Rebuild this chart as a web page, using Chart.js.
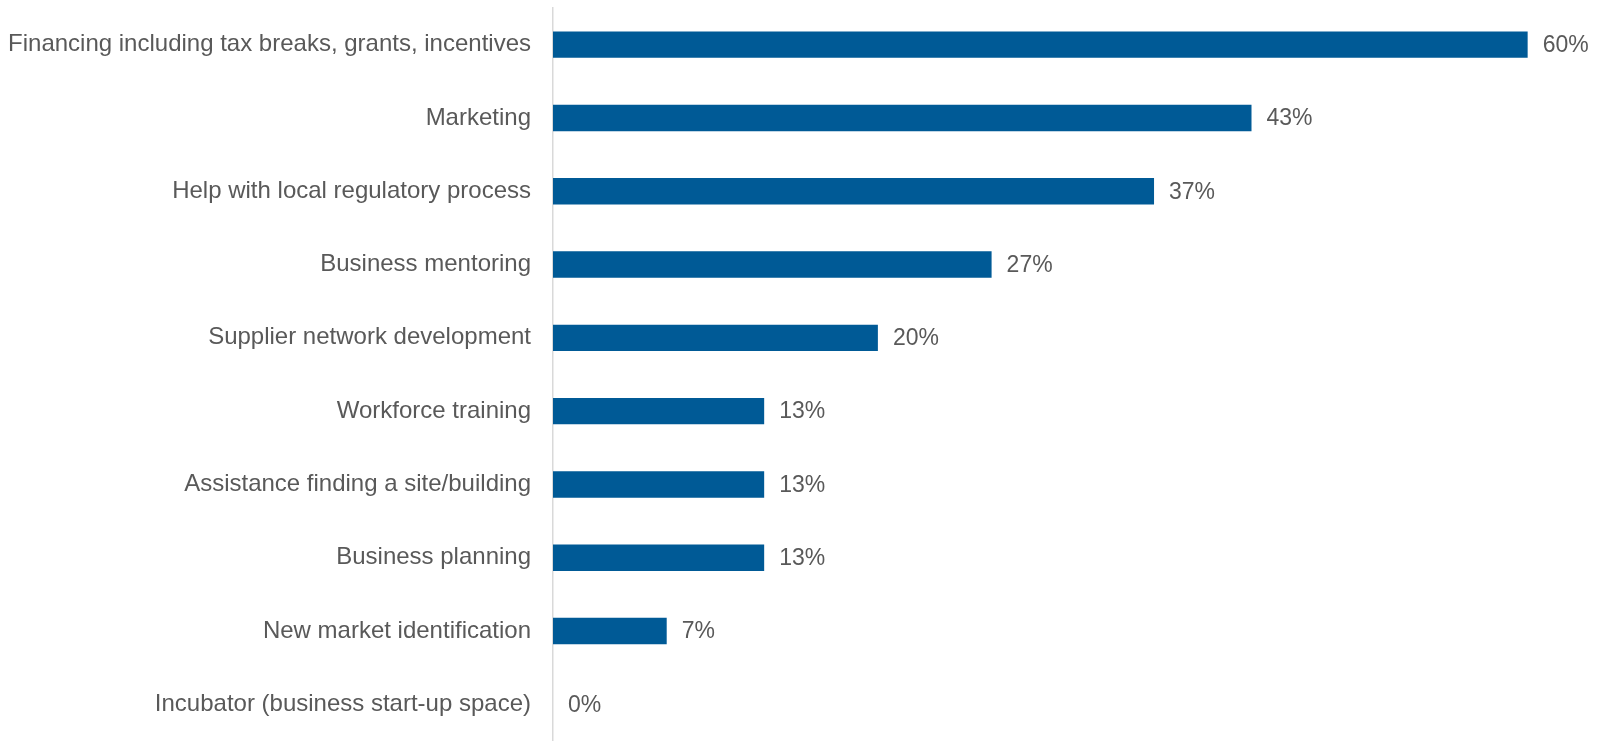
<!DOCTYPE html>
<html>
<head>
<meta charset="utf-8">
<script src="https://cdn.jsdelivr.net/npm/chart.js@4/dist/chart.umd.min.js"></script>
<style>
    html, body { margin: 0; padding: 0; background: #ffffff; }
    canvas { display: block; }
</style>
</head>
<body>
<canvas id="chart" width="1604" height="741"></canvas>
<script>
const categories = [
    'Financing including tax breaks, grants, incentives',
    'Marketing',
    'Help with local regulatory process',
    'Business mentoring',
    'Supplier network development',
    'Workforce training',
    'Assistance finding a site/building',
    'Business planning',
    'New market identification',
    'Incubator (business start-up space)'
]
const shares = [60, 43, 37, 27, 20, 13, 13, 13, 7, 0]

const barColor = '#005a96'
const textColor = '#595959'
const fontFamily = 'Arial, "Liberation Sans", sans-serif'

// value labels to the right of each bar
const valueLabels = {
    id: 'valueLabels',
    afterDatasetsDraw(chart) {
        const ctx = chart.ctx
        const meta = chart.getDatasetMeta(0)
        ctx.save()
        ctx.font = '23px ' + fontFamily
        ctx.fillStyle = textColor
        ctx.textAlign = 'left'
        ctx.textBaseline = 'middle'
        meta.data.forEach(function (bar, i) {
            ctx.fillText(shares[i] + '%', bar.x + 15, bar.y + 1)
        })
        ctx.restore()
    }
}

new Chart(document.getElementById('chart').getContext('2d'), {
    type: 'bar',
    data: {
        labels: categories,
        datasets: [{
            data: shares,
            backgroundColor: barColor,
            borderWidth: 0,
            barPercentage: 0.36,
            categoryPercentage: 1
        }]
    },
    options: {
        indexAxis: 'y',
        responsive: false,
        animation: false,
        layout: {
            padding: { top: 8, right: 0, bottom: 0, left: 0 }
        },
        plugins: {
            legend: { display: false },
            tooltip: { enabled: false }
        },
        scales: {
            x: {
                display: false,
                min: 0,
                max: 64.7
            },
            y: {
                afterFit: function (scale) {
                    scale.width = 553
                    // let the axis run the full height
                    scale.paddingTop = 0
                    scale.paddingBottom = 0
                },
                grid: { display: false },
                border: { display: true, color: '#d9d9d9', width: 1.5 },
                ticks: {
                    color: textColor,
                    padding: 14,
                    font: { size: 24, family: fontFamily }
                }
            }
        }
    },
    plugins: [valueLabels]
})
</script>
</body>
</html>
